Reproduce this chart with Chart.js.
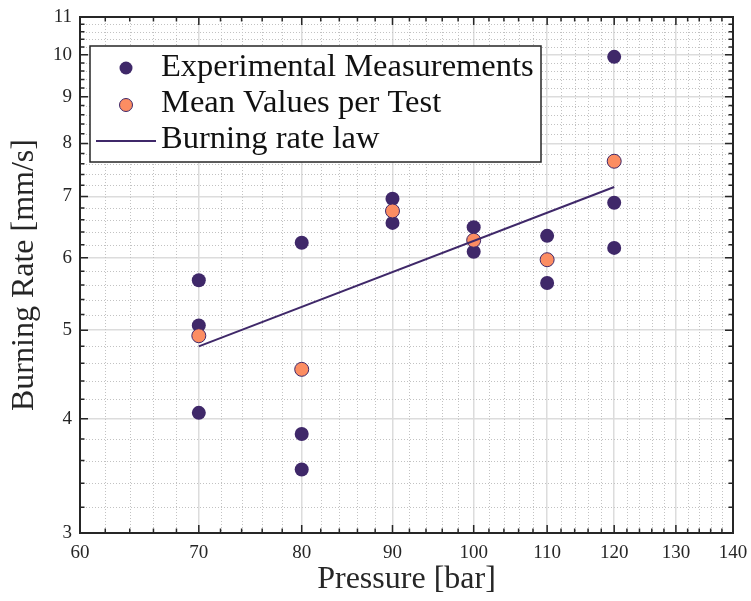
<!DOCTYPE html>
<html>
<head>
<meta charset="utf-8">
<title>Burning rate</title>
<script src="https://cdn.jsdelivr.net/npm/chart.js@4"></script>
<style>
  html, body { margin: 0; padding: 0; background: #fff; }
  canvas { display: block; }
</style>
</head>
<body>
<canvas id="rateChart" width="751" height="601"></canvas>
<script>
// experimental measurements (pressure in bar, burning rate in mm/s)
const expPressure = [70, 70, 70, 80, 80, 80, 90, 90, 100, 100, 110, 110, 120, 120, 120];
const expRate     = [5.67, 5.06, 4.06, 6.23, 3.85, 3.52, 6.96, 6.55, 6.48, 6.09, 6.34, 5.63, 9.95, 6.89, 6.15];

// mean value of each test
const meanPressure = [70, 80, 90, 100, 110, 120];
const meanRate     = [4.93, 4.53, 6.75, 6.27, 5.97, 7.65];

// fitted burning rate law, end points
const lawPressure = [70, 120];
const lawRate     = [4.80, 7.17];

// tick values
const xMajor = [60, 70, 80, 90, 100, 110, 120, 130, 140];
const xMinor = [62, 64, 66, 68, 72, 74, 76, 78, 82, 84, 86, 88, 92, 94, 96, 98, 102, 104, 106, 108,
                112, 114, 116, 118, 122, 124, 126, 128, 132, 134, 136, 138];
const yMajor = [3, 4, 5, 6, 7, 8, 9, 10, 11];
const yMinor = [3.2, 3.4, 3.6, 3.8, 4.2, 4.4, 4.6, 4.8, 5.2, 5.4, 5.6, 5.8, 6.2, 6.4, 6.6, 6.8,
                7.2, 7.4, 7.6, 7.8, 8.2, 8.4, 8.6, 8.8, 9.2, 9.4, 9.6, 9.8, 10.2, 10.4, 10.6, 10.8];

const legendLabels = ['Experimental Measurements', 'Mean Values per Test', 'Burning rate law'];

const purple = '#3f2869';
const orange = '#fc8d62';
const ink = '#262626';
const serif = '"Liberation Serif", "Times New Roman", serif';

const toPoints = (xs, ys) => xs.map((v, i) => ({ x: v, y: ys[i] }));
const isMajor = (list, v) => list.some(m => Math.abs(m - v) < 1e-9);

// minor dotted grid, box with inward ticks and the framed legend
const frame = {
  id: 'frame',
  beforeDatasetsDraw(chart) {
    const { ctx, chartArea: a, scales: { x, y } } = chart;
    ctx.save();
    ctx.strokeStyle = '#c2c2c2';
    ctx.lineWidth = 1;
    ctx.setLineDash([1, 2]);
    xMinor.forEach(v => {
      const px = Math.round(x.getPixelForValue(v)) + 0.5;
      ctx.beginPath(); ctx.moveTo(px, a.top); ctx.lineTo(px, a.bottom); ctx.stroke();
    });
    yMinor.forEach(v => {
      const py = Math.round(y.getPixelForValue(v)) + 0.5;
      ctx.beginPath(); ctx.moveTo(a.left, py); ctx.lineTo(a.right, py); ctx.stroke();
    });
    ctx.restore();
  },
  afterDraw(chart) {
    const { ctx, chartArea: a, scales: { x, y } } = chart;
    ctx.save();
    ctx.strokeStyle = ink;
    ctx.lineWidth = 1.5;
    xMajor.concat(xMinor).forEach(v => {
      const px = x.getPixelForValue(v);
      const len = isMajor(xMajor, v) ? 8 : 4.5;
      ctx.beginPath();
      ctx.moveTo(px, a.bottom); ctx.lineTo(px, a.bottom - len);
      ctx.moveTo(px, a.top); ctx.lineTo(px, a.top + len);
      ctx.stroke();
    });
    yMajor.concat(yMinor).forEach(v => {
      const py = y.getPixelForValue(v);
      const len = isMajor(yMajor, v) ? 8 : 4.5;
      ctx.beginPath();
      ctx.moveTo(a.left, py); ctx.lineTo(a.left + len, py);
      ctx.moveTo(a.right, py); ctx.lineTo(a.right - len, py);
      ctx.stroke();
    });
    ctx.lineWidth = 2;
    ctx.strokeRect(a.left, a.top, a.width, a.height);

    // legend
    const lx = 90, ly = 46, lw = 451, lh = 116;
    ctx.fillStyle = '#fff';
    ctx.fillRect(lx, ly, lw, lh);
    ctx.lineWidth = 1.5;
    ctx.strokeStyle = ink;
    ctx.strokeRect(lx, ly, lw, lh);

    ctx.beginPath();
    ctx.arc(126, 68, 6.5, 0, Math.PI * 2);
    ctx.fillStyle = purple; ctx.fill();

    ctx.beginPath();
    ctx.arc(126, 105, 6.5, 0, Math.PI * 2);
    ctx.fillStyle = orange; ctx.fill();
    ctx.lineWidth = 1; ctx.strokeStyle = purple; ctx.stroke();

    ctx.beginPath();
    ctx.moveTo(96, 141); ctx.lineTo(156, 141);
    ctx.lineWidth = 2; ctx.strokeStyle = purple; ctx.stroke();

    ctx.fillStyle = '#111';
    ctx.font = '32.5px ' + serif;
    ctx.textBaseline = 'alphabetic';
    ctx.textAlign = 'left';
    ctx.fillText(legendLabels[0], 161, 76);
    ctx.fillText(legendLabels[1], 161, 112);
    ctx.fillText(legendLabels[2], 161, 148);
    ctx.restore();
  }
};

const ctx = document.getElementById('rateChart').getContext('2d');

new Chart(ctx, {
  type: 'scatter',
  data: {
    datasets: [
      {
        label: legendLabels[2],
        type: 'line',
        data: toPoints(lawPressure, lawRate),
        borderColor: purple,
        borderWidth: 2,
        pointRadius: 0,
        fill: false,
        tension: 0
      },
      {
        label: legendLabels[1],
        data: toPoints(meanPressure, meanRate),
        backgroundColor: orange,
        borderColor: purple,
        borderWidth: 1,
        pointRadius: 7
      },
      {
        label: legendLabels[0],
        data: toPoints(expPressure, expRate),
        backgroundColor: purple,
        borderColor: purple,
        borderWidth: 0,
        pointRadius: 7
      }
    ]
  },
  options: {
    responsive: false,
    animation: false,
    layout: { padding: { top: 17, right: 18, left: 0, bottom: 0 } },
    plugins: {
      legend: { display: false },
      tooltip: { enabled: false }
    },
    scales: {
      x: {
        type: 'logarithmic',
        min: 60,
        max: 140,
        afterBuildTicks: s => { s.ticks = xMajor.concat(xMinor).sort((p, q) => p - q).map(v => ({ value: v })); },
        afterFit: s => { s.height = 68; s.paddingLeft = 0; s.paddingRight = 0; },
        border: { display: false },
        grid: {
          drawTicks: false,
          lineWidth: 1.5,
          color: c => (c.tick && isMajor(xMajor, c.tick.value)) ? '#dcdcdc' : 'rgba(0,0,0,0)'
        },
        ticks: {
          autoSkip: false,
          maxRotation: 0,
          padding: 9,
          color: ink,
          font: { family: serif, size: 19 },
          callback: v => isMajor(xMajor, v) ? String(v) : ''
        },
        title: {
          display: true,
          text: 'Pressure [bar]',
          color: ink,
          font: { family: serif, size: 32 },
          padding: { top: 0, bottom: 2 }
        }
      },
      y: {
        type: 'logarithmic',
        min: 3,
        max: 11,
        afterBuildTicks: s => { s.ticks = yMajor.concat(yMinor).sort((p, q) => p - q).map(v => ({ value: v })); },
        afterFit: s => { s.width = 80; s.paddingTop = 0; s.paddingBottom = 0; },
        border: { display: false },
        grid: {
          drawTicks: false,
          lineWidth: 1.5,
          color: c => (c.tick && isMajor(yMajor, c.tick.value)) ? '#dcdcdc' : 'rgba(0,0,0,0)'
        },
        ticks: {
          autoSkip: false,
          padding: 8,
          color: ink,
          font: { family: serif, size: 19 },
          callback: v => isMajor(yMajor, v) ? String(v) : ''
        },
        title: {
          display: true,
          text: 'Burning Rate [mm/s]',
          color: ink,
          font: { family: serif, size: 32 },
          padding: { top: 5, bottom: 0 }
        }
      }
    }
  },
  plugins: [frame]
});
</script>
</body>
</html>
